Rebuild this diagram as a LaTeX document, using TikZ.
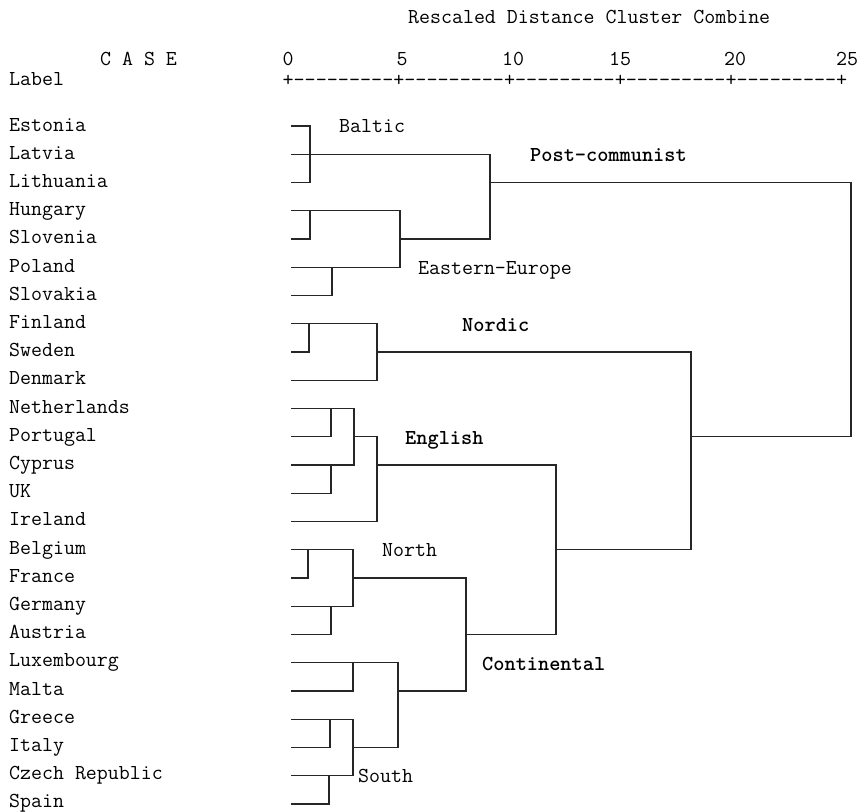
\documentclass[tikz,border=0pt]{standalone}
\usepackage{fontspec}
\begin{document}
\begin{tikzpicture}[x=1pt,y=-1pt,
  lbl/.style={anchor=base west,inner sep=0pt,font=\ttfamily\fontsize{21.3}{23}\selectfont},
  grpb/.style={lbl,font=\ttfamily\bfseries\fontsize{21.3}{23}\selectfont},
  num/.style={anchor=base,inner sep=0pt,font=\ttfamily\fontsize{21.3}{23}\selectfont},
  den/.style={line width=1.3pt,line join=miter,black!85}]
\useasboundingbox (0,0) rectangle (859,811);
% header
\node[lbl] (title) at (408,23.5) {Rescaled Distance Cluster Combine};
\node[lbl] (case) at (100,65.5) {C A S E};
\node[lbl] (label) at (9,85.5) {Label};
\node[num] (t0) at (288,65.5) {0};
\node[num] (t5) at (402,65.5) {5};
\node[num] (t10) at (513,65.5) {10};
\node[num] (t15) at (620,65.5) {15};
\node[num] (t20) at (735,65.5) {20};
\node[num] (t25) at (847,65.5) {25};
\node[lbl,font=\ttfamily\fontsize{21.5}{23}\selectfont] (ruler) at (282.4,86) {+---------+---------+---------+---------+---------+};
% case labels
\foreach \i/\name in {0/Estonia,1/Latvia,2/Lithuania,3/Hungary,4/Slovenia,5/Poland,6/Slovakia,7/Finland,8/Sweden,9/Denmark,10/Netherlands,11/Portugal,12/Cyprus,13/UK,14/Ireland,15/Belgium,16/France,17/Germany,18/Austria,19/Luxembourg,20/Malta,21/Greece,22/Italy,23/Czech Republic,24/Spain}
  {\node[lbl] (n\i) at (9,{125+28.2*\i+6}) {\name};}
% Post-communist
\draw[den] (291,126) -- (310,126) -- (310,182.5) -- (291,182.5);
\draw[den] (291,154.25) -- (490,154.25) -- (490,239) -- (400,239);
\draw[den] (291,210.75) -- (400,210.75) -- (400,267.25) -- (291,267.25);
\draw[den] (291,239) -- (310,239) -- (310,210.75);
\draw[den] (291,295.5) -- (332,295.5) -- (332,267.25);
\draw[den] (490,182.5) -- (851,182.5) -- (851,436.75) -- (691,436.75);
% Nordic
\draw[den] (291,323.75) -- (377,323.75) -- (377,380.25) -- (291,380.25);
\draw[den] (291,352) -- (309,352) -- (309,323.75);
\draw[den] (377,352) -- (691,352) -- (691,549.75) -- (556,549.75);
% English
\draw[den] (291,408.5) -- (354,408.5) -- (354,465) -- (291,465);
\draw[den] (291,436.75) -- (331,436.75) -- (331,408.5);
\draw[den] (291,493.25) -- (331,493.25) -- (331,465);
\draw[den] (354,436.75) -- (377,436.75) -- (377,521.5) -- (291,521.5);
\draw[den] (377,465) -- (556,465) -- (556,634.5) -- (466,634.5);
% Continental - North
\draw[den] (291,549.75) -- (353,549.75) -- (353,606.25) -- (291,606.25);
\draw[den] (291,578) -- (308,578) -- (308,549.75);
\draw[den] (291,634.5) -- (331,634.5) -- (331,606.25);
\draw[den] (353,578) -- (466,578) -- (466,691) -- (398,691);
% Continental - South
\draw[den] (291,662.75) -- (398,662.75) -- (398,747.5) -- (353,747.5);
\draw[den] (291,691) -- (353,691) -- (353,662.75);
\draw[den] (291,719.25) -- (353,719.25) -- (353,775.75) -- (291,775.75);
\draw[den] (291,747.5) -- (330,747.5) -- (330,719.25);
\draw[den] (291,804) -- (329,804) -- (329,775.75);
% cluster labels
\node[lbl] (baltic) at (339,132.5) {Baltic};
\node[grpb] (postc) at (530,161.5) {Post-communist};
\node[lbl] (easteu) at (418,274.5) {Eastern-Europe};
\node[grpb] (nordic) at (462,331.5) {Nordic};
\node[grpb] (english) at (405,444.5) {English};
\node[lbl] (north) at (382,556.5) {North};
\node[grpb] (contin) at (482,670.5) {Continental};
\node[lbl] (south) at (358,782.5) {South};
\end{tikzpicture}
\end{document}
